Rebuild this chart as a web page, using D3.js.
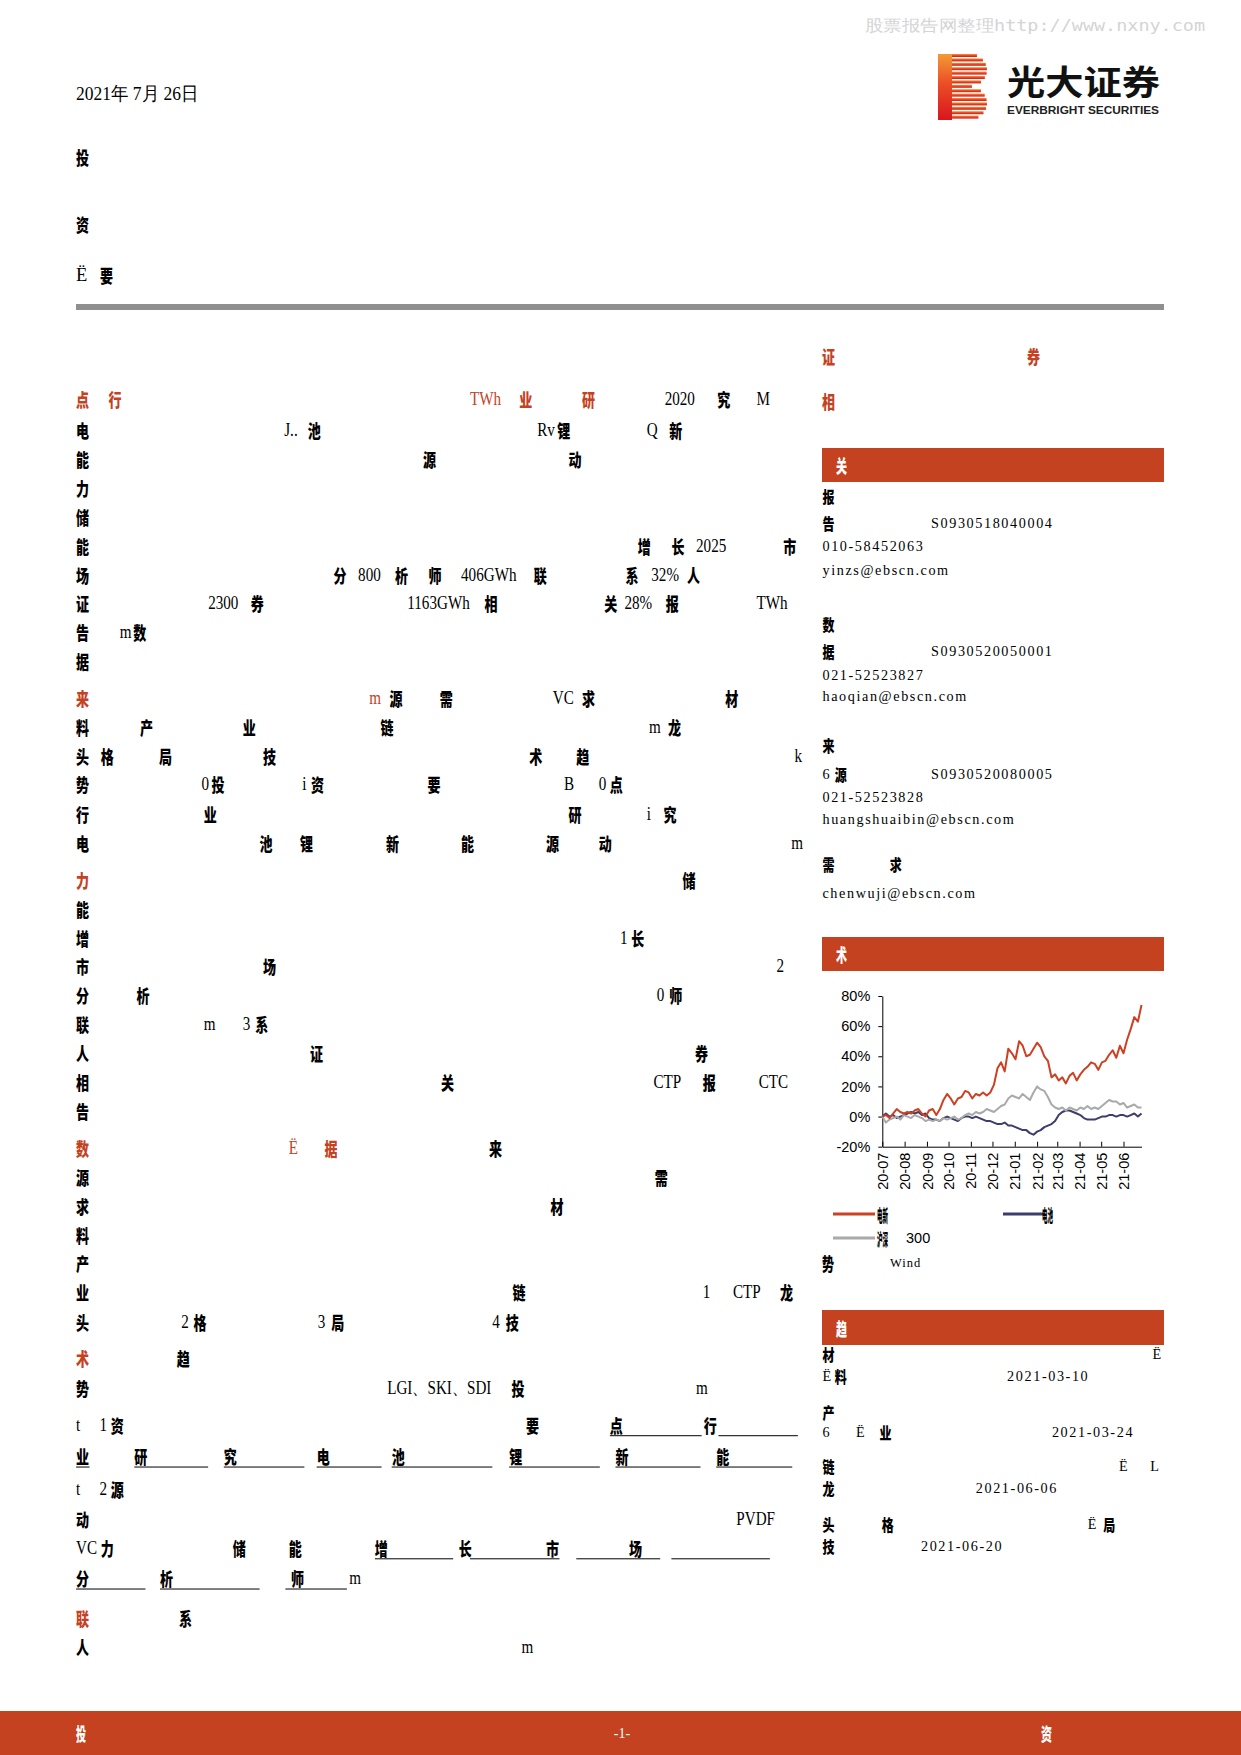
<!DOCTYPE html>
<html><head><meta charset="utf-8">
<script src="https://cdn.jsdelivr.net/npm/d3@7"></script>
<style>body{margin:0;background:#fff}svg{display:block}</style>
</head><body>
<svg id="page" width="1241" height="1755"></svg>
<script>
// ---------------- chart data ----------------
const dates = ["2020-07-01","2020-07-06","2020-07-11","2020-07-16","2020-07-21","2020-07-26","2020-07-31",
"2020-08-05","2020-08-10","2020-08-15","2020-08-20","2020-08-25","2020-08-30",
"2020-09-04","2020-09-09","2020-09-14","2020-09-19","2020-09-24","2020-09-29",
"2020-10-04","2020-10-09","2020-10-14","2020-10-19","2020-10-24","2020-10-29",
"2020-11-03","2020-11-08","2020-11-13","2020-11-18","2020-11-23","2020-11-28",
"2020-12-03","2020-12-08","2020-12-13","2020-12-18","2020-12-23","2020-12-28",
"2021-01-02","2021-01-07","2021-01-12","2021-01-17","2021-01-22","2021-01-27",
"2021-02-01","2021-02-06","2021-02-11","2021-02-16","2021-02-21","2021-02-26",
"2021-03-03","2021-03-08","2021-03-13","2021-03-18","2021-03-23","2021-03-28",
"2021-04-02","2021-04-07","2021-04-12","2021-04-17","2021-04-22","2021-04-27",
"2021-05-02","2021-05-07","2021-05-12","2021-05-17","2021-05-22","2021-05-27",
"2021-06-01","2021-06-06","2021-06-11","2021-06-16","2021-06-21","2021-06-26"];
// relative performance, %
const redValues = [0,1,-1,2,5,3,2,3,2,4,5,2,0,4,5,1,5,11,15,12,8,12,13,17,16,12,15,14,16,14,16,21,32,36,30,45,42,38,50,47,40,41,45,49,46,40,37,26,28,24,26,22,27,29,24,28,31,33,36,35,31,36,37,41,44,39,47,42,51,58,66,63,74];
const blueValues = [0,2,0,1,-1,0,1,2,3,2,3,1,2,-1,-2,-2,-3,-1,0,-1,-2,-3,-1,0,0,-1,0,-1,-2,-3,-3,-4,-5,-5,-4,-6,-6,-7,-8,-9,-9,-11,-12,-10,-9,-7,-6,-5,-3,1,3,4,4,3,2,1,-1,-2,-2,-2,-1,0,0,1,1,0,1,1,0,1,2,0,2];
const grayValues = [0,-4,-2,-1,0,-2,1,0,-1,1,0,-1,-3,-2,-3,-2,-3,-1,-2,-1,0,-2,-1,1,2,1,3,2,3,5,4,3,5,7,8,12,14,13,12,15,13,11,16,20,18,17,13,8,6,5,6,4,6,5,4,6,5,7,5,6,5,7,9,11,10,10,8,9,6,7,8,6,6];
const yTickValues = [-20,0,20,40,60,80];
const monthTicks = ["2020-07-01","2020-08-01","2020-09-01","2020-10-01","2020-11-01","2020-12-01","2021-01-01","2021-02-01","2021-03-01","2021-04-01","2021-05-01","2021-06-01"];
const seriesNames = ["电新","电池","沪深300"];
const seriesColors = ["#cc4123","#3d3d6b","#a9a9a9"];

// ---------------- page ----------------
const svg = d3.select("#page");
const K = 1241/1109;
const RED = "#c4421f";
const SERIF = "'Liberation Serif','Times New Roman',serif";
const CJK = "'Noto Sans CJK SC','Noto Sans',sans-serif";
const ARIAL = "'Liberation Sans',Arial,sans-serif";
const blobChars = "投资要点行业研究电池锂新能源动力储能增长市场分析师联系人证券相关报告数据来源需求材料产业链龙头格局技术趋势";
let bi = 0;
function blob(g, x, y, color, w, fs){
  g.append("text").attr("x", x).attr("y", y).attr("dominant-baseline","central")
   .attr("font-family", CJK).attr("font-weight", 900).attr("font-size", fs || 18)
   .attr("textLength", w || 13).attr("lengthAdjust","spacingAndGlyphs")
   .attr("fill", color).text(blobChars[bi++ % blobChars.length]);
}
function txt(g, x, y, s, color, size, family, ls){
  return g.append("text").attr("x", x).attr("y", y).attr("dominant-baseline","central")
   .attr("font-family", family || SERIF).attr("font-size", size || 18.5)
   .attr("letter-spacing", ls || 0).attr("fill", color || "#000").text(s);
}
function condense(t, f){
  const n = t.node().getComputedTextLength();
  t.attr("textLength", n * f).attr("lengthAdjust","spacingAndGlyphs");
  return t;
}

// watermark
svg.append("text").attr("x", 865).attr("y", 25).attr("dominant-baseline","central")
  .attr("font-family", "'DejaVu Sans Mono',monospace").attr("font-size", 16)
  .attr("textLength", 340).attr("lengthAdjust","spacingAndGlyphs")
  .attr("fill", "#d4d4d4").text("股票报告网整理http://www.nxny.com");

// logo
const defs = svg.append("defs");
const lg = defs.append("linearGradient").attr("id","lgLogo").attr("x1",0).attr("y1",0).attr("x2",0).attr("y2",1);
lg.append("stop").attr("offset","0%").attr("stop-color","#f39a35");
lg.append("stop").attr("offset","45%").attr("stop-color","#ec4d26");
lg.append("stop").attr("offset","100%").attr("stop-color","#d8161d");
const logo = svg.append("g").attr("fill","url(#lgLogo)");
logo.append("rect").attr("x",938).attr("y",54).attr("width",14).attr("height",66);
for (let yy = 54; yy < 119; yy += 4.4) {
  const top = yy < 87;
  const c = top ? 70 : 103, r = top ? 17 : 17.5;
  const t = Math.max(0, 1 - Math.pow((yy + 1.5 - c) / r, 2));
  const w = 14 + 21 * Math.sqrt(t);
  logo.append("rect").attr("x",952).attr("y",yy).attr("width",w).attr("height",3);
}
svg.append("text").attr("x",1007).attr("y",80).attr("dominant-baseline","central")
  .attr("font-family",CJK).attr("font-weight",700).attr("font-size",34)
  .attr("textLength",153).attr("lengthAdjust","spacingAndGlyphs").attr("fill","#111").text("光大证券");
svg.append("text").attr("x",1007).attr("y",110).attr("dominant-baseline","central")
  .attr("font-family",ARIAL).attr("font-weight",700).attr("font-size",11)
  .attr("textLength",152).attr("lengthAdjust","spacingAndGlyphs").attr("fill","#222").text("EVERBRIGHT SECURITIES");

// header left
const hg = svg.append("g");
condense(txt(hg, 76, 93, "2021年 7月 26日", "#000", 19), 0.92);
blob(hg, 76, 157, "#000");
blob(hg, 76, 224, "#000");
txt(hg, 76, 275, "Ë", "#000", 18.5);
blob(hg, 100, 275, "#000");

// rule
svg.append("rect").attr("x",76).attr("y",304).attr("width",1088).attr("height",6).attr("fill","#8f8f8f");

// left column body (shrunk-image coordinates * K)
const leftLines = [
 [357,[[68,"r"],[97,"r"],[420,"TWh","rt"],[464,"r"],[520,"r"],[594,"2020","t"],[641,"b"],[676,"M","t"]]],
 [384,[[68,"b"],[254,"J..","t"],[275,"b"],[480,"Rv","t"],[498,"b"],[578,"Q","t"],[598,"b"]]],
 [410,[[68,"b"],[378,"b"],[508,"b"]]],
 [436,[[68,"b"]]],
 [462,[[68,"b"]]],
 [488,[[68,"b"],[570,"b"],[600,"b"],[622,"2025","t"],[700,"b"]]],
 [514,[[68,"b"],[298,"b"],[320,"800","t"],[353,"b"],[383,"b"],[412,"406GWh","t"],[477,"b"],[559,"b"],[582,"32%","t"],[614,"b"]]],
 [539,[[68,"b"],[186,"2300","t"],[224,"b"],[364,"1163GWh","t"],[433,"b"],[540,"b"],[558,"28%","t"],[595,"b"],[676,"TWh","t"]]],
 [565,[[68,"b"],[107,"m","t"],[119,"b"]]],
 [591,[[68,"b"]]],
 [624,[[68,"r"],[330,"m","rt"],[348,"b"],[393,"b"],[494,"VC","t"],[520,"b"],[648,"b"]]],
 [650,[[68,"b"],[125,"b"],[217,"b"],[340,"b"],[580,"m","t"],[597,"b"]]],
 [676,[[68,"b"],[90,"b"],[142,"b"],[235,"b"],[473,"b"],[515,"b"],[710,"k","t"]]],
 [701,[[68,"b"],[180,"0","t"],[189,"b"],[270,"i","t"],[278,"b"],[382,"b"],[504,"B","t"],[535,"0","t"],[545,"b"]]],
 [727,[[68,"b"],[182,"b"],[508,"b"],[578,"i","t"],[593,"b"]]],
 [753,[[68,"b"],[232,"b"],[268,"b"],[345,"b"],[412,"b"],[488,"b"],[535,"b"],[707,"m","t"]]],
 [786,[[68,"r"],[610,"b"]]],
 [812,[[68,"b"]]],
 [838,[[68,"b"],[554,"1","t"],[564,"b"]]],
 [863,[[68,"b"],[235,"b"],[694,"2","t"]]],
 [889,[[68,"b"],[122,"b"],[587,"0","t"],[598,"b"]]],
 [915,[[68,"b"],[182,"m","t"],[217,"3","t"],[228,"b"]]],
 [941,[[68,"b"],[277,"b"],[621,"b"]]],
 [967,[[68,"b"],[394,"b"],[584,"CTP","t"],[628,"b"],[678,"CTC","t"]]],
 [993,[[68,"b"]]],
 [1026,[[68,"r"],[258,"Ë","rt"],[290,"r"],[437,"b"]]],
 [1052,[[68,"b"],[585,"b"]]],
 [1078,[[68,"b"],[492,"b"]]],
 [1104,[[68,"b"]]],
 [1129,[[68,"b"]]],
 [1155,[[68,"b"],[458,"b"],[628,"1","t"],[655,"CTP","t"],[697,"b"]]],
 [1181,[[68,"b"],[162,"2","t"],[173,"b"],[284,"3","t"],[296,"b"],[440,"4","t"],[452,"b"]]],
 [1214,[[68,"r"],[158,"b"]]],
 [1240,[[68,"b"],[346,"LGI、SKI、SDI","t"],[457,"b"],[622,"m","t"]]],
 [1273,[[68,"t","t"],[89,"1","t"],[99,"b"],[470,"b"],[545,"b"],[629,"b"]]],
 [1301,[[68,"b"],[120,"b"],[200,"b"],[283,"b"],[350,"b"],[455,"b"],[550,"b"],[640,"b"]]],
 [1331,[[68,"t","t"],[89,"2","t"],[99,"b"]]],
 [1357,[[68,"b"],[658,"PVDF","t"]]],
 [1383,[[68,"VC","t"],[90,"b"],[208,"b"],[258,"b"],[335,"b"],[410,"b"],[488,"b"],[562,"b"]]],
 [1410,[[68,"b"],[143,"b"],[260,"b"],[312,"m","t"]]],
 [1446,[[68,"r"],[160,"b"]]],
 [1472,[[68,"b"],[466,"m","t"]]]
];
const underlines = [
 [1273,[[545,627],[642,713]]],
 [1301,[[68,80],[120,186],[200,272],[283,341],[350,440],[455,536],[550,626],[640,708]]],
 [1383,[[335,405],[420,500],[515,590],[600,688]]],
 [1410,[[68,130],[143,232],[255,310]]]
];
const lc = svg.append("g");
leftLines.forEach(([yy, items]) => {
  items.forEach(it => {
    const X = it[0]*K, Y = yy*K;
    if (it[1] === "b") blob(lc, X, Y, "#000");
    else if (it[1] === "r") blob(lc, X, Y, RED);
    else condense(txt(lc, X, Y, it[1], it[2] === "rt" ? RED : "#000", 18), 0.84);
  });
});
underlines.forEach(([yy, segs]) => segs.forEach(([a,b]) => {
  lc.append("line").attr("x1",a*K).attr("x2",b*K).attr("y1",(yy+10)*K).attr("y2",(yy+10)*K)
    .attr("stroke","#000").attr("stroke-width",1);
}));

// right column
const rc = svg.append("g");
blob(rc, 822, 356, RED); blob(rc, 1027, 356, RED); blob(rc, 822, 401, RED);
function bar(y0, y1){
  rc.append("rect").attr("x",822).attr("y",y0).attr("width",342).attr("height",y1-y0).attr("fill",RED);
  blob(rc, 836, (y0+y1)/2, "#fff", 11);
}
bar(448, 482);
const RS = 14.2, RL = 1.6;
const rightLines = [
 [443,[[735,"b"]]],
 [467,[[735,"b"],[832,"S0930518040004"]]],
 [488,[[735,"010-58452063"]]],
 [509,[[735,"yinzs@ebscn.com"]]],
 [558,[[735,"b"]]],
 [582,[[735,"b"],[832,"S0930520050001"]]],
 [603,[[735,"021-52523827"]]],
 [622,[[735,"haoqian@ebscn.com"]]],
 [666,[[735,"b"]]],
 [692,[[735,"6"],[746,"b"],[832,"S0930520080005"]]],
 [712,[[735,"021-52523828"]]],
 [732,[[735,"huangshuaibin@ebscn.com"]]],
 [772,[[735,"b"],[795,"b"]]],
 [798,[[735,"chenwuji@ebscn.com"]]],
 [1210,[[735,"b"],[1030,"Ë"]]],
 [1230,[[735,"Ë"],[746,"b"],[900,"2021-03-10"]]],
 [1262,[[735,"b"]]],
 [1280,[[735,"6"],[765,"Ë"],[786,"b"],[940,"2021-03-24"]]],
 [1310,[[735,"b"],[1000,"Ë"],[1028,"L"]]],
 [1330,[[735,"b"],[872,"2021-06-06"]]],
 [1362,[[735,"b"],[788,"b"],[972,"Ë"],[986,"b"]]],
 [1382,[[735,"b"],[823,"2021-06-20"]]]
];
rightLines.forEach(([yy, items]) => items.forEach(it => {
  if (it[1] === "b") blob(rc, it[0]*K, yy*K, "#000", 12, 16);
  else txt(rc, it[0]*K, yy*K, it[1], "#000", RS, SERIF, RL);
}));
bar(937, 971);
bar(1310, 1345);

// ---------------- chart ----------------
const parse = d3.timeParse("%Y-%m-%d");
const dts = dates.map(parse);
const x = d3.scaleTime().domain([dts[0], dts[dts.length-1]]).range([882.3, 1141.5]);
const y = d3.scaleLinear().domain([-20, 80]).range([1146.7, 996]);
const cg = svg.append("g");

const yAxis = cg.append("g").attr("transform","translate(882.3,0)")
  .call(d3.axisLeft(y).tickValues(yTickValues).tickSizeInner(4).tickSizeOuter(0).tickPadding(8).tickFormat(d => d + "%"));
const xAxis = cg.append("g").attr("transform","translate(0,1146.7)")
  .call(d3.axisBottom(x).tickValues(monthTicks.map(parse)).tickSizeInner(-5).tickSizeOuter(0).tickFormat(d3.timeFormat("%y-%m")));
[yAxis, xAxis].forEach(a => {
  a.attr("font-family", ARIAL).attr("font-size", 14.5);
  a.selectAll("path,line").attr("stroke","#000").attr("stroke-width",1);
  a.selectAll("text").attr("fill","#000");
});
xAxis.selectAll("text").attr("transform","rotate(-90)").attr("text-anchor","end")
  .attr("x",-6).attr("y",0).attr("dy","0.35em");

const series = [
  {name: seriesNames[1], color: seriesColors[1], values: blueValues},
  {name: seriesNames[2], color: seriesColors[2], values: grayValues},
  {name: seriesNames[0], color: seriesColors[0], values: redValues}
];
const line = d3.line().x((d,i) => x(dts[i])).y(d => y(d));
series.forEach(s => {
  cg.append("path").datum(s.values).attr("d", line).attr("fill","none")
    .attr("stroke", s.color).attr("stroke-width", 2).attr("stroke-linejoin","round");
});

// legend
const leg = svg.append("g");
const legendItems = [
  {i:0, lx:833, ly:1214, tx:877},
  {i:1, lx:1003, ly:1214, tx:1042},
  {i:2, lx:833, ly:1238, tx:877}
];
legendItems.forEach(L => {
  leg.append("line").attr("x1",L.lx).attr("x2",L.lx+42).attr("y1",L.ly).attr("y2",L.ly)
    .attr("stroke",seriesColors[L.i]).attr("stroke-width",3);
  const nm = seriesNames[L.i];
  const cjk = nm.replace(/[0-9]/g,"");
  const num = nm.replace(/[^0-9]/g,"");
  leg.append("text").attr("x",L.tx).attr("y",L.ly).attr("dominant-baseline","central")
    .attr("font-family",CJK).attr("font-weight",900).attr("font-size",12)
    .attr("textLength",11).attr("lengthAdjust","spacingAndGlyphs").attr("fill","#000").text(cjk)
    .attr("transform",`translate(${L.tx},${L.ly}) scale(1,1.45) translate(${-L.tx},${-L.ly})`);
  if (num) leg.append("text").attr("x",906).attr("y",L.ly).attr("dominant-baseline","central")
    .attr("font-family",ARIAL).attr("font-size",14.5).attr("fill","#000").text(num);
});
blob(leg, 822, 1263, "#000", 12);
txt(leg, 890, 1263, "Wind", "#000", 12.5, SERIF, 1);

// footer
svg.append("rect").attr("x",0).attr("y",1711).attr("width",1241).attr("height",44).attr("fill",RED);
blob(svg.append("g"), 76, 1733, "#fff", 10);
txt(svg, 622, 1733, "-1-", "#fff", 14, SERIF).attr("text-anchor","middle");
blob(svg.append("g"), 1041, 1733, "#fff", 11);
</script>
</body></html>
